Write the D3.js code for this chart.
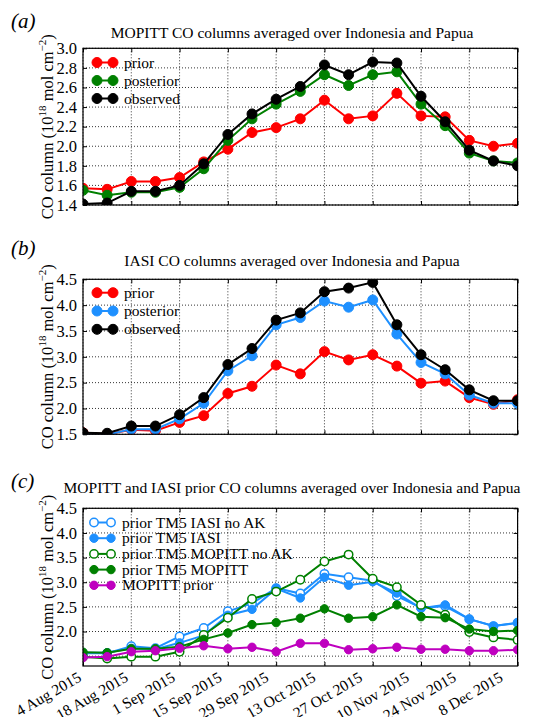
<!DOCTYPE html>
<html>
<head>
<meta charset="utf-8">
<script src="https://cdn.jsdelivr.net/npm/d3@7"></script>
<style>
  html, body { margin: 0; padding: 0; background: #fff; }
  svg { display: block; }
  svg text { font-family: "Liberation Serif", "DejaVu Serif", serif; }
</style>
</head>
<body>
<svg id="chart" width="536" height="717"></svg>
<script>
// ---------------- data ----------------
const dates = ["2015-08-04","2015-08-11","2015-08-18","2015-08-25","2015-09-01","2015-09-08","2015-09-15",
  "2015-09-22","2015-09-29","2015-10-06","2015-10-13","2015-10-20","2015-10-27","2015-11-03",
  "2015-11-10","2015-11-17","2015-11-24","2015-12-01","2015-12-08"];
const tickDates = ["2015-08-04","2015-08-18","2015-09-01","2015-09-15","2015-09-29","2015-10-13",
  "2015-10-27","2015-11-10","2015-11-24","2015-12-08"];
const tickLabels = ["4 Aug 2015","18 Aug 2015","1 Sep 2015","15 Sep 2015","29 Sep 2015","13 Oct 2015",
  "27 Oct 2015","10 Nov 2015","24 Nov 2015","8 Dec 2015"];

// panel (a) MOPITT
const mopittPrior     = [1.57,1.56,1.64,1.64,1.68,1.84,1.97,2.14,2.19,2.28,2.47,2.28,2.31,2.54,2.31,2.30,2.06,2.00,2.03];
const mopittPosterior = [1.55,1.50,1.53,1.53,1.58,1.77,2.06,2.28,2.43,2.56,2.73,2.62,2.73,2.76,2.43,2.21,1.93,1.85,1.83];
const mopittObserved  = [1.41,1.42,1.54,1.54,1.60,1.82,2.12,2.33,2.48,2.61,2.83,2.73,2.86,2.85,2.51,2.25,1.96,1.85,1.80];

// panel (b) IASI
const iasiPrior     = [1.53,1.50,1.59,1.57,1.73,1.86,2.29,2.43,2.84,2.67,3.10,2.94,3.04,2.82,2.49,2.53,2.21,2.08,2.17];
const iasiPosterior = [1.50,1.49,1.60,1.60,1.80,2.10,2.73,3.02,3.62,3.76,4.08,3.96,4.10,3.44,2.89,2.67,2.26,2.10,2.10];
const iasiObserved  = [1.53,1.52,1.66,1.66,1.88,2.21,2.85,3.16,3.71,3.85,4.26,4.33,4.44,3.62,3.04,2.75,2.36,2.15,2.15];

// panel (c) priors
const tm5IasiNoAK   = [1.56,1.56,1.70,1.66,1.90,2.07,2.41,2.57,2.88,2.77,3.17,3.10,3.03,2.72,2.48,2.51,2.25,2.11,2.18];
const tm5Iasi       = [1.57,1.57,1.66,1.64,1.77,1.92,2.33,2.45,2.87,2.68,3.10,2.94,3.01,2.78,2.47,2.54,2.25,2.11,2.17];
const tm5MopittNoAK = [1.49,1.45,1.49,1.49,1.59,1.93,2.28,2.66,2.81,3.05,3.42,3.56,3.07,2.90,2.54,2.34,1.99,1.88,1.83];
const tm5Mopitt     = [1.58,1.57,1.65,1.65,1.69,1.84,1.97,2.14,2.18,2.27,2.46,2.27,2.30,2.54,2.30,2.28,2.05,2.00,2.02];
const mopittPriorC  = [1.47,1.49,1.59,1.61,1.66,1.71,1.65,1.68,1.59,1.76,1.76,1.63,1.65,1.68,1.64,1.64,1.61,1.61,1.63];

const yTicksA = [1.4,1.6,1.8,2.0,2.2,2.4,2.6,2.8,3.0];
const yTicksB = [1.5,2.0,2.5,3.0,3.5,4.0,4.5];
const yGridC  = [1.5,2.0,2.5,3.0,3.5,4.0,4.5];
const yTicksC = [2.0,2.5,3.0,3.5,4.0,4.5];

// ---------------- drawing ----------------
const FONT = "Liberation Serif";
const parse = d3.utcParse("%Y-%m-%d");
const svg = d3.select("#chart");
const X0 = 83, X1 = 517.6;
const x = d3.scaleUtc().domain([parse(dates[0]), parse(dates[dates.length-1])]).range([X0, X1]);
// label anchor positions as placed in the reference (slightly compressed)
const xLab = d3.scaleUtc().domain(x.domain()).range([X0 - 6, X1 - 19]);

const RED = "#ff0000", GREEN = "#008000", BLACK = "#000000", BLUE = "#1e90ff", MAG = "#bf00bf";

function ylabel(g, cx, cy) {
  const t = g.append("text")
    .attr("transform", `translate(${cx},${cy}) rotate(-90)`)
    .attr("text-anchor", "middle")
    .attr("font-family", FONT)
    .attr("font-size", 16.5)
    .attr("fill", "#000");
  t.append("tspan").text("CO column (10");
  t.append("tspan").attr("dy", -7).attr("font-size", 11).text("18");
  t.append("tspan").attr("dy", 7).text(" mol cm");
  t.append("tspan").attr("dy", -7).attr("font-size", 11).text("\u22122");
  t.append("tspan").attr("dy", 7).text(")");
}

function panel(cfg) {
  const g = svg.append("g");
  const y = d3.scaleLinear().domain(cfg.ydom).range([cfg.bottom, cfg.top]);

  // grid (dotted)
  const gridY = cfg.grid || cfg.yticks;
  g.append("g").selectAll("line").data(gridY).join("line")
    .attr("x1", X0).attr("x2", X1)
    .attr("y1", d => y(d)).attr("y2", d => y(d))
    .attr("stroke", "#000").attr("stroke-width", 0.8).attr("stroke-dasharray", "1,2");
  g.append("g").selectAll("line").data(tickDates).join("line")
    .attr("x1", d => x(parse(d))).attr("x2", d => x(parse(d)))
    .attr("y1", cfg.top).attr("y2", cfg.bottom)
    .attr("stroke", "#000").attr("stroke-width", 0.8).attr("stroke-dasharray", "1,2");

  // axes with inward ticks
  const yAxisL = d3.axisLeft(y).tickValues(cfg.yticks).tickFormat(d3.format(".1f")).tickSizeInner(-4).tickSizeOuter(0).tickPadding(6);
  const gl = g.append("g").attr("transform", `translate(${X0},0)`).call(yAxisL)
    .attr("font-family", FONT).attr("font-size", 16.5);
  gl.select(".domain").remove();
  gl.selectAll("text").attr("font-size", 16.5).attr("font-family", FONT).attr("fill", "#000");
  const yAxisR = d3.axisRight(y).tickValues(cfg.yticks).tickFormat("").tickSizeInner(-4).tickSizeOuter(0);
  const gr = g.append("g").attr("transform", `translate(${X1},0)`).call(yAxisR);
  gr.select(".domain").remove();
  const xAxisB = d3.axisBottom(x).tickValues(tickDates.map(parse)).tickFormat("").tickSizeInner(-4).tickSizeOuter(0);
  const gb = g.append("g").attr("transform", `translate(0,${cfg.bottom})`).call(xAxisB);
  gb.select(".domain").remove();
  const xAxisT = d3.axisTop(x).tickValues(tickDates.map(parse)).tickFormat("").tickSizeInner(-4).tickSizeOuter(0);
  const gt = g.append("g").attr("transform", `translate(0,${cfg.top})`).call(xAxisT);
  gt.select(".domain").remove();

  // series
  const line = d3.line().x((d, i) => x(parse(dates[i]))).y(d => y(d));
  const clipId = "clip" + cfg.id;
  svg.append("clipPath").attr("id", clipId).append("rect")
    .attr("x", X0).attr("y", cfg.top).attr("width", X1 - X0).attr("height", cfg.bottom - cfg.top);
  const sg = g.append("g").attr("clip-path", `url(#${clipId})`);
  cfg.series.forEach(s => {
    sg.append("path").datum(s.values).attr("d", line)
      .attr("fill", "none").attr("stroke", s.color).attr("stroke-width", 2);
    sg.append("g").selectAll("circle").data(s.values).join("circle")
      .attr("cx", (d, i) => x(parse(dates[i]))).attr("cy", d => y(d))
      .attr("r", cfg.r)
      .attr("fill", s.open ? "#fff" : s.color)
      .attr("stroke", s.color).attr("stroke-width", s.open ? 1.5 : 1);
  });

  // frame
  g.append("rect").attr("x", X0).attr("y", cfg.top).attr("width", X1 - X0).attr("height", cfg.bottom - cfg.top)
    .attr("fill", "none").attr("stroke", "#000").attr("stroke-width", 1.2);

  // legend
  const lg = g.append("g");
  cfg.series.forEach((s, i) => {
    const ly = cfg.legY + i * cfg.legStep;
    lg.append("line").attr("x1", cfg.legX).attr("x2", cfg.legX + cfg.legW).attr("y1", ly).attr("y2", ly)
      .attr("stroke", s.color).attr("stroke-width", 2);
    [cfg.legX, cfg.legX + cfg.legW].forEach(cx => {
      lg.append("circle").attr("cx", cx).attr("cy", ly).attr("r", cfg.r)
        .attr("fill", s.open ? "#fff" : s.color).attr("stroke", s.color).attr("stroke-width", s.open ? 1.5 : 1);
    });
    lg.append("text").attr("x", cfg.legX + cfg.legW + 11).attr("y", ly + 5)
      .attr("font-family", FONT).attr("font-size", 15.5).attr("fill", "#000").text(s.name);
  });

  // title & panel label
  g.append("text").attr("x", cfg.titleX).attr("y", cfg.titleY).attr("text-anchor", "middle")
    .attr("font-family", FONT).attr("font-size", 15.5).attr("fill", "#000").text(cfg.title);
  g.append("text").attr("x", 11).attr("y", cfg.labelY).attr("font-size", 21).attr("font-style", "italic")
    .attr("font-family", FONT).attr("fill", "#000").text(cfg.label);

  ylabel(g, 53, (cfg.top + cfg.bottom) / 2);
  return { g, y };
}

panel({
  id: "a", top: 48.3, bottom: 205, ydom: [1.4, 3.0], yticks: yTicksA, r: 5,
  title: "MOPITT CO columns averaged over Indonesia and Papua", titleX: 292, titleY: 38,
  label: "(a)", labelY: 28,
  legX: 97, legW: 16, legY: 62.5, legStep: 18,
  series: [
    { name: "prior", values: mopittPrior, color: RED },
    { name: "posterior", values: mopittPosterior, color: GREEN },
    { name: "observed", values: mopittObserved, color: BLACK }
  ]
});

panel({
  id: "b", top: 279.3, bottom: 434.3, ydom: [1.5, 4.5], yticks: yTicksB, r: 5,
  title: "IASI CO columns averaged over Indonesia and Papua", titleX: 292, titleY: 266,
  label: "(b)", labelY: 255,
  legX: 97, legW: 16, legY: 292.7, legStep: 18.3,
  series: [
    { name: "prior", values: iasiPrior, color: RED },
    { name: "posterior", values: iasiPosterior, color: BLUE },
    { name: "observed", values: iasiObserved, color: BLACK }
  ]
});

panel({
  id: "c", top: 508.3, bottom: 666, ydom: [1.3, 4.5], yticks: yTicksC, grid: yGridC, r: 4.2,
  title: "MOPITT and IASI prior CO columns averaged over Indonesia and Papua", titleX: 292, titleY: 493,
  label: "(c)", labelY: 488,
  legX: 94, legW: 17, legY: 522.5, legStep: 15.7,
  series: [
    { name: "prior TM5 IASI no AK", values: tm5IasiNoAK, color: BLUE, open: true },
    { name: "prior TM5 IASI", values: tm5Iasi, color: BLUE },
    { name: "prior TM5 MOPITT no AK", values: tm5MopittNoAK, color: GREEN, open: true },
    { name: "prior TM5 MOPITT", values: tm5Mopitt, color: GREEN },
    { name: "MOPITT prior", values: mopittPriorC, color: MAG }
  ]
});

// rotated date labels under panel (c)
svg.append("g").selectAll("text").data(tickDates).join("text")
  .attr("transform", d => `translate(${xLab(parse(d))},${666 + 5}) rotate(-30)`)
  .attr("text-anchor", "end")
  .attr("dy", "0.7em")
  .attr("font-family", FONT)
  .attr("font-size", 15.5)
  .attr("fill", "#000")
  .text((d, i) => tickLabels[i]);
</script>
</body>
</html>
